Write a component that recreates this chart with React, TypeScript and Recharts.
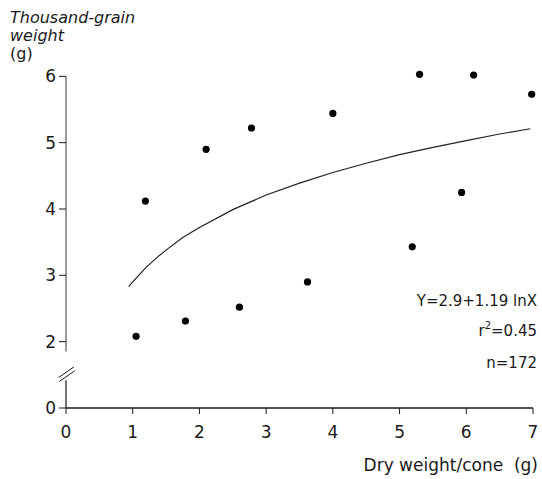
import React from "react";
import { ComposedChart, Scatter, XAxis, YAxis, ReferenceLine } from "recharts";

// observed points (dry weight per cone, thousand-grain weight)
const dryWeight = [1.05, 1.19, 1.79, 2.1, 2.6, 2.78, 3.62, 4.0, 5.19, 5.3, 5.93, 6.11, 6.98];
const grainWeight = [2.08, 4.12, 2.31, 4.9, 2.52, 5.22, 2.9, 5.44, 3.43, 6.03, 4.25, 6.02, 5.73];

// fitted curve
const curveX = [0.94, 1.0, 1.1, 1.2, 1.3, 1.4, 1.5, 1.75, 2, 2.5, 3, 3.5, 4, 4.5, 5, 5.5, 6, 6.5, 6.96];
const curveY = [2.83, 2.9, 3.01, 3.12, 3.21, 3.3, 3.38, 3.57, 3.72, 3.99, 4.21, 4.39, 4.55, 4.69, 4.82, 4.93, 5.03, 5.13, 5.21];

const xTicks = [0, 1, 2, 3, 4, 5, 6, 7];
// the axis is broken below 2: the bottom tick stands for 0
const yTicks = [1, 2, 3, 4, 5, 6];

const points = dryWeight.map((x, i) => ({ x, y: grainWeight[i] }));
const curve = curveX.map((x, i) => ({ x, y: curveY[i] }));

const FONT = "'DejaVu Sans', sans-serif";
const INK = "#1a1a1a";

const Dot = (p: any) => <circle cx={p.cx} cy={p.cy} r={3.6} fill="#000" />;

export default function App() {
  return (
    <div style={{ position: "absolute", left: 0, top: 0, width: 542, height: 479, background: "#fff", fontFamily: FONT, color: INK }}>
      <ComposedChart width={542} height={479} margin={{ top: 73, right: 9, bottom: 41, left: 26 }}>
        <XAxis
          type="number"
          dataKey="x"
          domain={[0, 7]}
          ticks={xTicks}
          height={30}
          tickSize={6}
          tickMargin={12}
          axisLine={{ stroke: INK, strokeWidth: 1.3 }}
          tickLine={{ stroke: INK }}
          tick={{ fill: INK, fontSize: 17, fontFamily: FONT }}
        />
        <YAxis
          type="number"
          dataKey="y"
          domain={[1, 6.05]}
          ticks={yTicks}
          width={40}
          tickSize={7}
          tickMargin={3}
          axisLine={false}
          tickLine={{ stroke: INK }}
          tick={{ fill: INK, fontSize: 17, fontFamily: FONT }}
          tickFormatter={(v: number) => (v === 1 ? "0" : String(v))}
        />
        {/* y axis drawn in two pieces around the break */}
        <ReferenceLine segment={[{ x: 0, y: 6 }, { x: 0, y: 1.85 }]} stroke="#555" strokeWidth={1.2} ifOverflow="visible" />
        <ReferenceLine segment={[{ x: 0, y: 1.42 }, { x: 0, y: 1 }]} stroke={INK} strokeWidth={1.2} ifOverflow="visible" />
        <ReferenceLine segment={[{ x: -0.11, y: 1.46 }, { x: 0.12, y: 1.62 }]} stroke={INK} strokeWidth={1} ifOverflow="visible" />
        <ReferenceLine segment={[{ x: -0.1, y: 1.4 }, { x: 0.13, y: 1.56 }]} stroke={INK} strokeWidth={1} ifOverflow="visible" />
        <Scatter
          data={curve}
          line={{ stroke: "#222", strokeWidth: 1.2 }}
          shape={() => <g />}
          isAnimationActive={false}
        />
        <Scatter data={points} shape={Dot} isAnimationActive={false} />
      </ComposedChart>

      <div style={{ position: "absolute", left: 10, top: 9, fontSize: 16, lineHeight: "18px", fontStyle: "italic" }}>
        Thousand-grain
        <br />
        weight
        <br />
        <span style={{ fontStyle: "normal" }}>(g)</span>
      </div>

      <div style={{ position: "absolute", right: 4, top: 455, fontSize: 17, whiteSpace: "pre", lineHeight: "20px" }}>
        {"Dry weight/cone  (g)"}
      </div>

      <div style={{ position: "absolute", right: 5, top: 286, fontSize: 15, lineHeight: "30px", textAlign: "right" }}>
        <div>Y=2.9+1.19 lnX</div>
        <div>
          r<span style={{ fontSize: 10, position: "relative", top: -7 }}>2</span>=0.45
        </div>
        <div>n=172</div>
      </div>
    </div>
  );
}
